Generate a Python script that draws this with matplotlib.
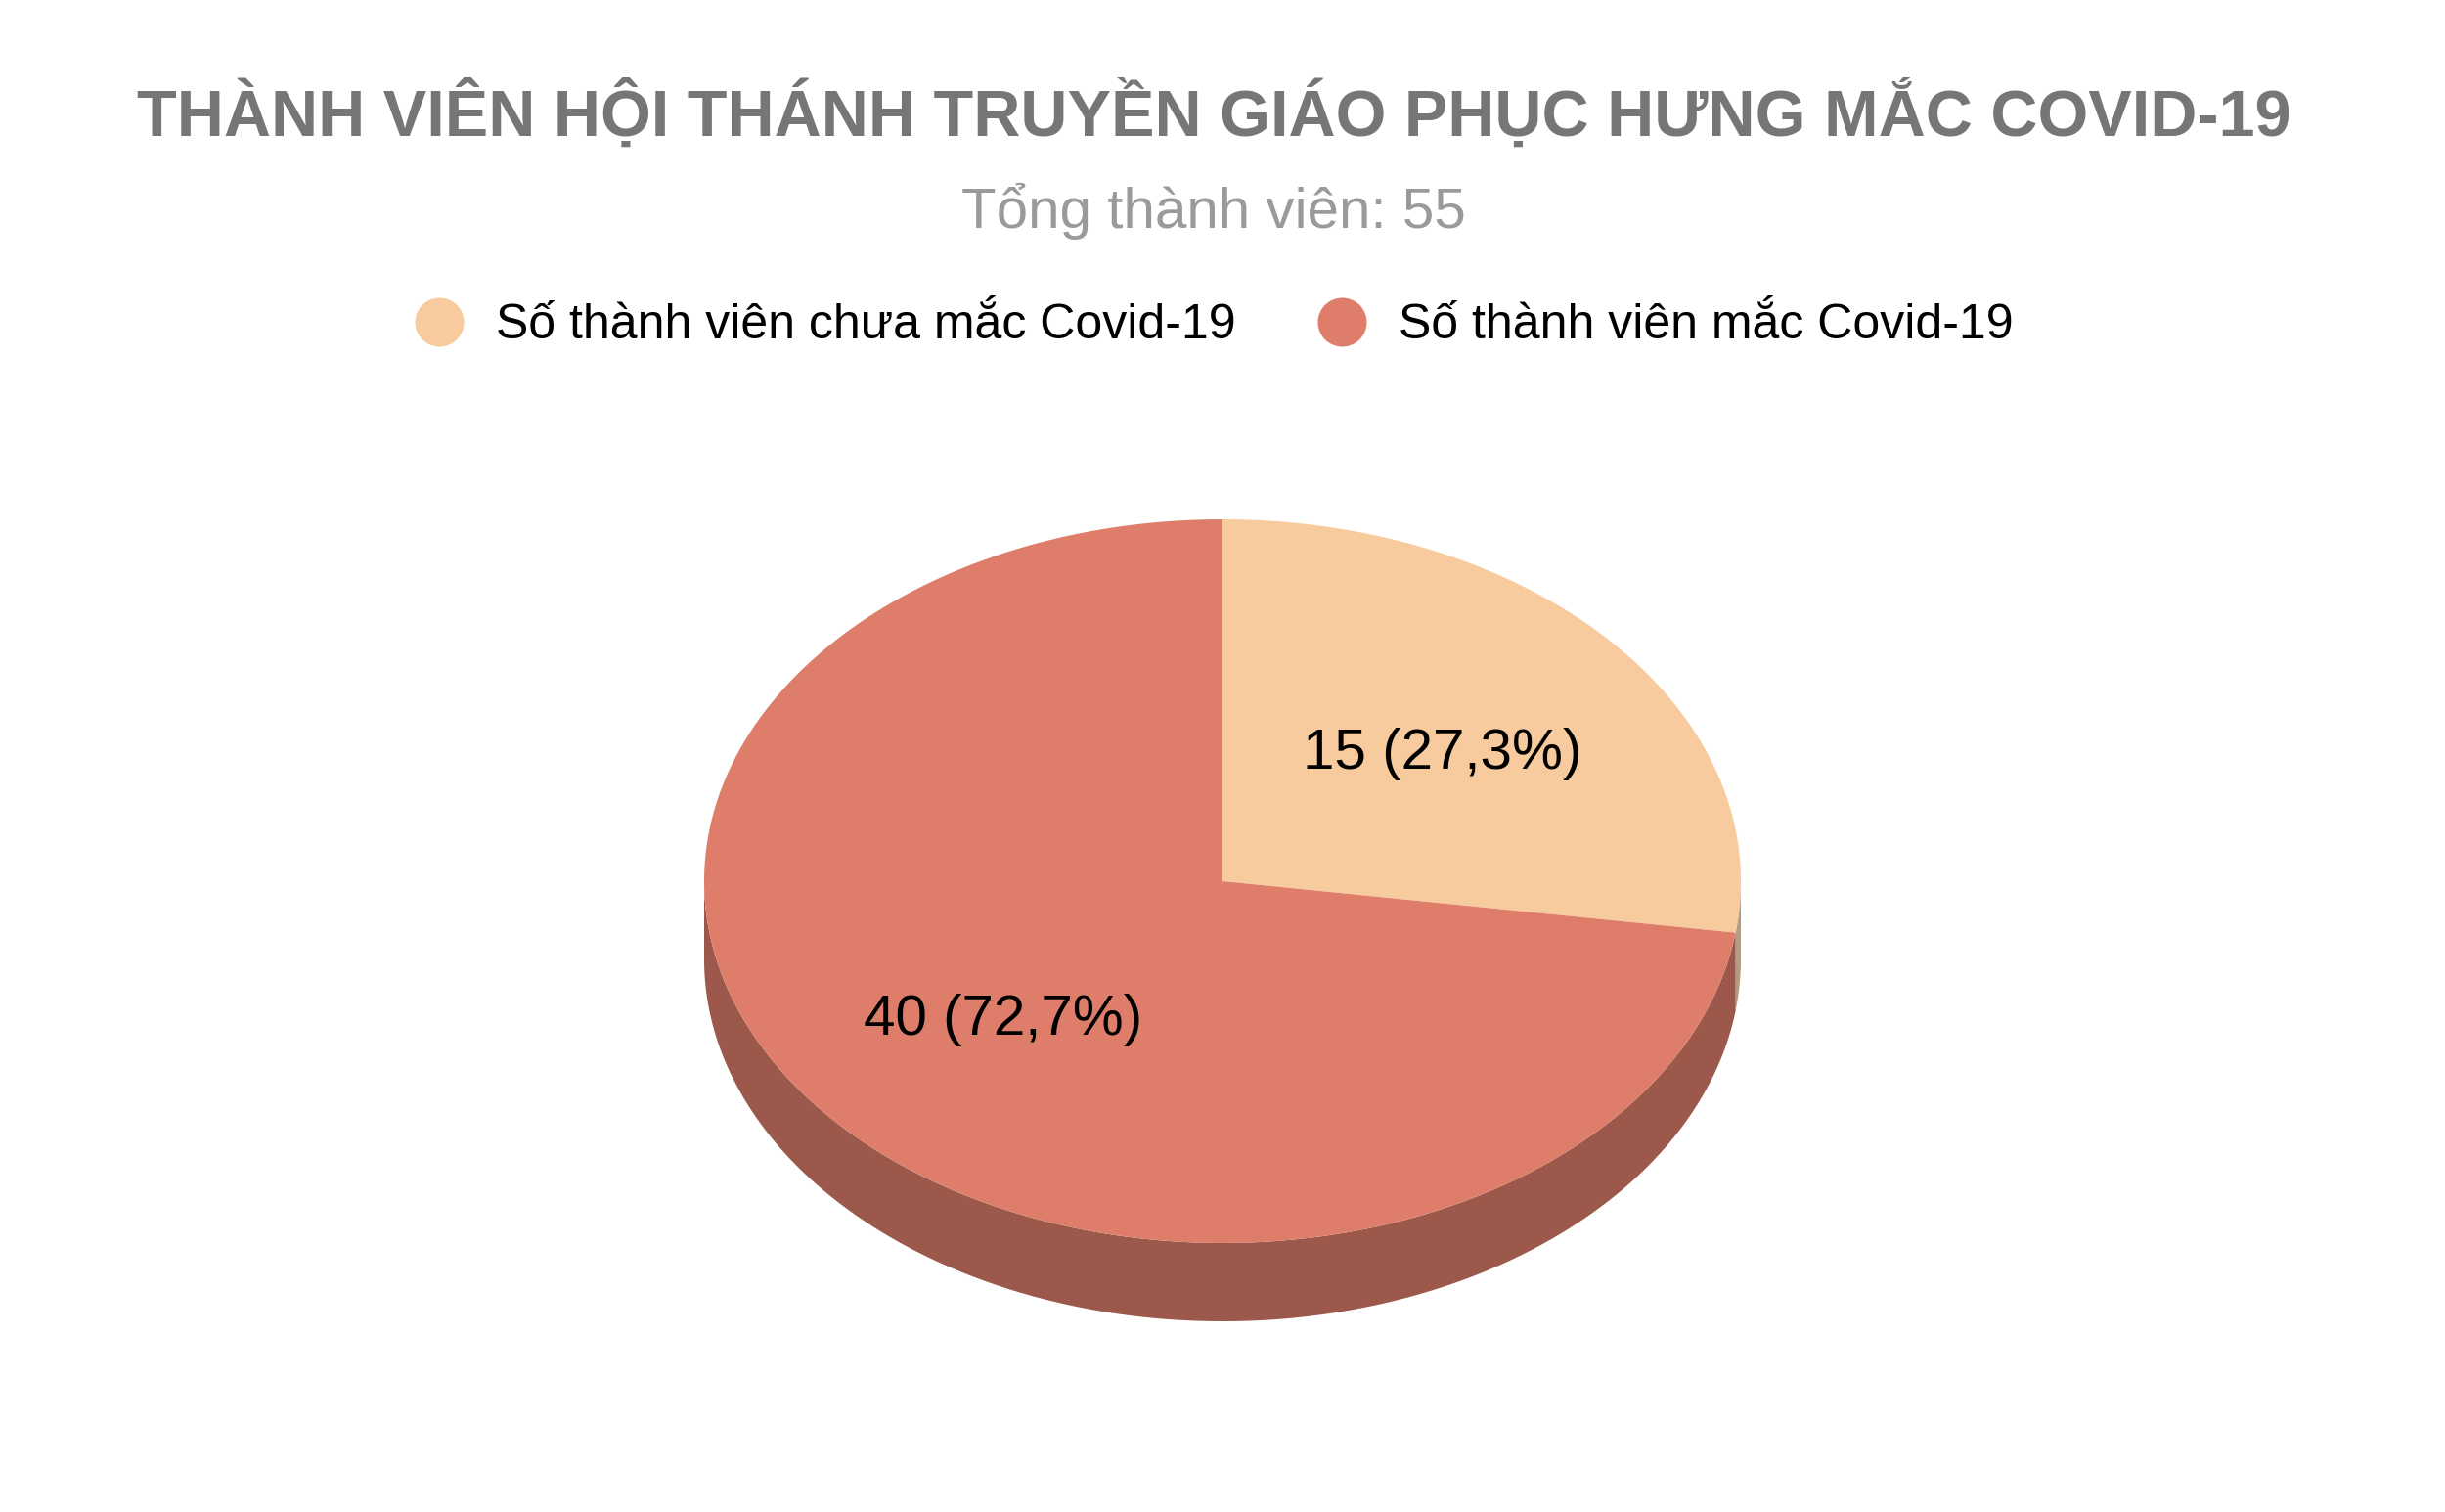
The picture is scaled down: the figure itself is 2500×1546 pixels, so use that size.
import numpy as np
import matplotlib.pyplot as plt
from matplotlib.patches import Polygon
from matplotlib.lines import Line2D

plt.rcParams['font.family'] = ['Liberation Sans', 'DejaVu Sans']

title = 'THÀNH VIÊN HỘI THÁNH TRUYỀN GIÁO PHỤC HƯNG MẮC COVID-19'
subtitle = 'Tổng thành viên: 55'
labels = ['Số thành viên chưa mắc Covid-19', 'Số thành viên mắc Covid-19']
values = [15, 40]
top_colors = ['#F8CB9E', '#DE7E6A']
side_colors = ['#B59C7E', '#9C584A']

W, H = 2500, 1546
fig = plt.figure(figsize=(W / 100, H / 100), dpi=100)
ax = fig.add_axes([0, 0, 1, 1])
ax.set_xlim(0, W)
ax.set_ylim(H, 0)
ax.axis('off')

# pie geometry in pixels
cx, cy = 1250, 901
rx, ry = 530, 370
depth = 80

def arc(t0, t1, n=200):
    t = np.linspace(t0, t1, n)
    return cx + rx * np.sin(t), cy - ry * np.cos(t)

total = sum(values)
bounds = np.concatenate([[0], np.cumsum(values) / total * 2 * np.pi])

# sides (visible front half only)
for i in range(len(values)):
    a0 = max(bounds[i], np.pi / 2)
    a1 = min(bounds[i + 1], 3 * np.pi / 2)
    if a1 <= a0:
        continue
    x, y = arc(a0, a1)
    pts = np.vstack([np.column_stack([x, y]), np.column_stack([x[::-1], y[::-1] + depth])])
    ax.add_patch(Polygon(pts, closed=True, facecolor=side_colors[i], edgecolor='none', zorder=1))

# top faces
for i in range(len(values)):
    x, y = arc(bounds[i], bounds[i + 1])
    pts = np.vstack([[cx, cy], np.column_stack([x, y])])
    ax.add_patch(Polygon(pts, closed=True, facecolor=top_colors[i], edgecolor='none', zorder=2))
    mid = (bounds[i] + bounds[i + 1]) / 2
    pct = f'{values[i] / total * 100:.1f}'.replace('.', ',')
    ax.text(cx + 0.56 * rx * np.sin(mid), cy - 0.56 * ry * np.cos(mid) + 6,
            f'{values[i]} ({pct}%)', ha='center', va='center', fontsize=42, color='black', zorder=3)

xc = 0.4965
fig.text(xc, 1 - 117 / H, title, ha='center', va='center', fontsize=48, fontweight='bold', color='#767676')
fig.text(xc, 1 - 216 / H, subtitle, ha='center', va='center', fontsize=42, color='#9A9A9A')

handles = [Line2D([], [], marker='o', linestyle='', markersize=36, markerfacecolor=c, markeredgecolor='none')
           for c in top_colors]
fig.legend(handles, labels, loc='center', bbox_to_anchor=(xc, 1 - 333 / H), ncol=2, frameon=False,
           fontsize=36, handletextpad=0.66, columnspacing=1.66, handlelength=1.0)

fig.savefig('out.png', dpi=100, facecolor='white')
